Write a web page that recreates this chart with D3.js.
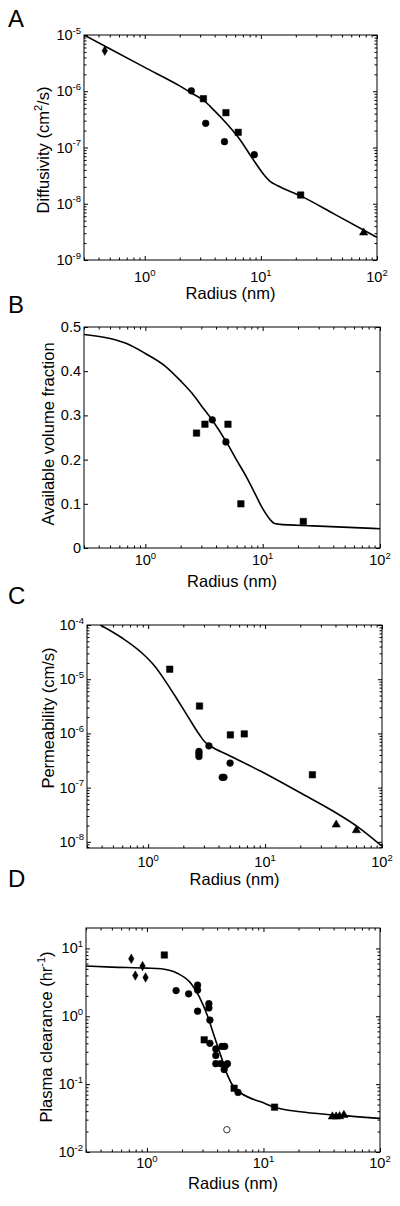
<!DOCTYPE html>
<html><head><meta charset="utf-8">
<script src="https://cdn.jsdelivr.net/npm/d3@7"></script>
<style>
body{margin:0;background:#fff;}
svg{display:block;}
text{font-family:"Liberation Sans",Arial,Helvetica,sans-serif;fill:#000;}
</style>
</head><body>
<svg id="chart" width="400" height="1206"></svg>
<script>
// ---------------- DATA ----------------
const panelLetters = ["A", "B", "C", "D"];
const xLabel = "Radius (nm)";
const xDomain = [0.3, 100];
const xTickValues = [1, 10, 100];
const xTickExponents = ["0", "1", "2"];

// Panel A: Diffusivity (cm^2/s)
const aYTicks = [1e-9, 1e-8, 1e-7, 1e-6, 1e-5];
const aYExponents = ["-9", "-8", "-7", "-6", "-5"];
const aCurveR = [0.3, 0.5, 1.0, 2.0, 2.52, 3.2, 4.0, 5.0, 6.5, 8.5, 10.5, 12, 14, 22, 42.6, 100];
const aCurveV = [1.0e-5, 5.69e-6, 2.66e-6, 1.245e-6, 9.33e-7, 6.92e-7, 4.47e-7, 2.75e-7, 1.445e-7, 6.31e-8, 3.39e-8, 2.51e-8, 2.09e-8, 1.38e-8, 6.61e-9, 2.53e-9];
const aDiamonds = [[0.453, 5.26e-6]];
const aCircles = [[2.52, 1.02e-6], [3.35, 2.69e-7], [4.86, 1.27e-7], [8.78, 7.45e-8]];
const aSquares = [[3.2, 7.38e-7], [5.0, 4.16e-7], [6.38, 1.86e-7], [22.0, 1.43e-8]];
const aTriangles = [[76.7, 3.06e-9]];

// Panel B: Available volume fraction
const bYTicks = [0, 0.1, 0.2, 0.3, 0.4, 0.5];
const bYLabels = ["0", "0.1", "0.2", "0.3", "0.4", "0.5"];
const bCurveR = [0.3, 0.5, 0.7, 1.0, 1.5, 2.0, 2.5, 3.0, 3.7, 5.0, 6.0, 7.3, 8.5, 9.5, 10.5, 11.6, 12.5, 13.5, 27, 100];
const bCurveV = [0.483, 0.474, 0.462, 0.440, 0.410, 0.378, 0.350, 0.322, 0.290, 0.236, 0.199, 0.160, 0.126, 0.100, 0.080, 0.064, 0.056, 0.054, 0.050, 0.0437];
const bSquares = [[2.73, 0.26], [3.22, 0.28], [5.06, 0.28], [6.52, 0.10], [22.2, 0.06]];
const bCircles = [[3.72, 0.29], [4.86, 0.24]];

// Panel C: Permeability (cm/s)
const cYTicks = [1e-8, 1e-7, 1e-6, 1e-5, 1e-4];
const cYExponents = ["-8", "-7", "-6", "-5", "-4"];
const cCurveR = [0.39, 0.6, 0.9, 1.15, 1.4, 1.7, 2.19, 2.75, 3.03, 3.46, 4.8, 9.2, 20.2, 38.7, 61.2, 100];
const cCurveV = [1.0e-4, 5.75e-5, 2.95e-5, 1.70e-5, 9.33e-6, 4.90e-6, 2.04e-6, 9.42e-7, 7.1e-7, 5.74e-7, 4.04e-7, 2.0e-7, 7.94e-8, 3.63e-8, 1.93e-8, 8.3e-9];
const cSquares = [[1.53, 1.53e-5], [2.75, 3.2e-6], [5.05, 9.4e-7], [6.64, 9.8e-7], [25.4, 1.73e-7]];
const cCircles = [[2.72, 4.65e-7], [2.72, 4.22e-7], [2.72, 3.76e-7], [3.31, 5.9e-7], [4.3, 1.55e-7], [4.45, 1.55e-7], [5.02, 2.84e-7]];
const cTriangles = [[40.6, 2.07e-8], [60.4, 1.63e-8]];

// Panel D: Plasma clearance (hr^-1)
const dYTicks = [0.01, 0.1, 1, 10];
const dYExponents = ["-2", "-1", "0", "1"];
const dCurveR = [0.3, 0.5, 1.0, 1.32, 1.84, 2.39, 2.81, 3.32, 3.77, 4.3, 4.91, 5.6, 6.38, 10, 12.45, 20.7, 40, 100];
const dCurveV = [5.5, 5.31, 5.13, 5.01, 4.27, 3.05, 1.95, 1.0, 0.515, 0.265, 0.136, 0.089, 0.074, 0.053, 0.0458, 0.0392, 0.0352, 0.0313];
const dDiamonds = [[0.734, 7.03], [0.795, 3.98], [0.917, 5.5], [0.973, 3.73]];
const dSquares = [[1.41, 8.0], [3.1, 0.45], [5.6, 0.087], [12.45, 0.0458]];
const dCircles = [[1.78, 2.39], [2.28, 2.14], [2.72, 2.88], [2.72, 2.44], [2.72, 1.19], [3.4, 1.53], [3.4, 1.33],
  [3.47, 0.88], [3.47, 0.40], [3.9, 0.33], [3.9, 0.265], [4.4, 0.36], [4.65, 0.36], [3.9, 0.20], [4.3, 0.20],
  [4.75, 0.19], [4.6, 0.164], [4.91, 0.20], [6.05, 0.0755]];
const dTriangles = [[39, 0.0332], [42, 0.0332], [45, 0.0335], [49, 0.035]];
const dOpenCircles = [[4.85, 0.0213]];

// ---------------- LAYOUT ----------------
const panels = [
  { letter: panelLetters[0], letterY: 27, left: 84, right: 377, top: 35, bottom: 260, yLog: true, yDomain: [1e-9, 1e-5],
    yTicks: aYTicks, yTickText: aYExponents, yLabel: ["Diffusivity (cm", "2", "/s)"], yLabelX: 49, yLabelY: 150,
    xTickBase: 282, xLabelBase: 299,
    curveR: aCurveR, curveV: aCurveV,
    marks: { diamond: aDiamonds, circle: aCircles, square: aSquares, triangle: aTriangles } },
  { letter: panelLetters[1], letterY: 313, left: 84, right: 380, top: 327, bottom: 548, yLog: false, yDomain: [0, 0.5],
    yTicks: bYTicks, yTickText: bYLabels, yLabel: ["Available volume fraction"], yLabelX: 54, yLabelY: 434,
    xTickBase: 565, xLabelBase: 587,
    curveR: bCurveR, curveV: bCurveV,
    marks: { square: bSquares, circle: bCircles } },
  { letter: panelLetters[2], letterY: 604, left: 87, right: 382, top: 625, bottom: 848, yLog: true, yDomain: [7.7e-9, 1e-4],
    yTicks: cYTicks, yTickText: cYExponents, yLabel: ["Permeability (cm/s)"], yLabelX: 54, yLabelY: 718,
    xTickBase: 867, xLabelBase: 885,
    curveR: cCurveR, curveV: cCurveV,
    marks: { square: cSquares, circle: cCircles, triangle: cTriangles } },
  { letter: panelLetters[3], letterY: 887, left: 86, right: 380, top: 928, bottom: 1152, yLog: true, yDomain: [0.01, 20],
    yTicks: dYTicks, yTickText: dYExponents, yLabel: ["Plasma clearance (hr", "-1", ")"], yLabelX: 52, yLabelY: 1037,
    xTickBase: 1168, xLabelBase: 1189,
    curveR: dCurveR, curveV: dCurveV,
    marks: { diamond: dDiamonds, square: dSquares, circle: dCircles, triangle: dTriangles, open: dOpenCircles } }
];

const svg = d3.select("#chart");
const TICK_FS = 14.5, SUP_FS = 9.5, LABEL_FS = 16.5;

function minorLogTicks(domain) {
  const out = [];
  const lo = Math.floor(Math.log10(domain[0])), hi = Math.ceil(Math.log10(domain[1]));
  for (let e = lo; e <= hi; e++) {
    for (let k = 2; k <= 9; k++) {
      const v = k * Math.pow(10, e);
      if (v > domain[0] && v < domain[1]) out.push(v);
    }
  }
  return out;
}

const symbols = {
  circle: d3.symbol().type(d3.symbolCircle).size(36),
  square: d3.symbol().type(d3.symbolSquare).size(42),
  diamond: d3.symbol().type(d3.symbolDiamond).size(26),
  triangle: d3.symbol().type(d3.symbolTriangle).size(30),
  open: d3.symbol().type(d3.symbolCircle).size(32)
};

panels.forEach((p, i) => {
  const g = svg.append("g");
  const x = d3.scaleLog().domain(xDomain).range([p.left, p.right]);
  const y = (p.yLog ? d3.scaleLog() : d3.scaleLinear()).domain(p.yDomain).range([p.bottom, p.top]);

  const clipId = "clip" + i;
  svg.append("clipPath").attr("id", clipId).append("rect")
    .attr("x", p.left).attr("y", p.top).attr("width", p.right - p.left).attr("height", p.bottom - p.top);

  // inward ticks via d3 axes
  const xMinor = minorLogTicks(xDomain);
  const yMinor = p.yLog ? minorLogTicks(p.yDomain) : [];
  const specs = [
    [d3.axisBottom(x), `translate(0,${p.bottom})`, xTickValues, xMinor],
    [d3.axisTop(x), `translate(0,${p.top})`, xTickValues, xMinor],
    [d3.axisLeft(y), `translate(${p.left},0)`, p.yTicks, yMinor],
    [d3.axisRight(y), `translate(${p.right},0)`, p.yTicks, yMinor]
  ];
  specs.forEach(([axis, tr, major, minor]) => {
    const gm = g.append("g").attr("transform", tr)
      .call(axis.tickValues(major).tickSizeInner(-4).tickSizeOuter(0).tickFormat(() => ""));
    gm.select(".domain").remove();
    gm.selectAll("line").attr("stroke", "#000").attr("stroke-width", 1);
    if (minor.length) {
      const gn = g.append("g").attr("transform", tr)
        .call(axis.tickValues(minor).tickSizeInner(-2.5).tickSizeOuter(0).tickFormat(() => ""));
      gn.select(".domain").remove();
      gn.selectAll("line").attr("stroke", "#000").attr("stroke-width", 1);
    }
  });

  g.append("rect").attr("x", p.left).attr("y", p.top)
    .attr("width", p.right - p.left).attr("height", p.bottom - p.top)
    .attr("fill", "none").attr("stroke", "#000").attr("stroke-width", 1);

  xTickValues.forEach((v, j) => {
    const t = g.append("text").attr("x", x(v)).attr("y", p.xTickBase)
      .attr("text-anchor", "middle").attr("font-size", TICK_FS);
    t.append("tspan").text("10");
    t.append("tspan").attr("font-size", SUP_FS).attr("dy", -6.5).text(xTickExponents[j]);
  });

  p.yTicks.forEach((v, j) => {
    const t = g.append("text").attr("x", p.left - 3).attr("y", y(v) + 5)
      .attr("text-anchor", "end").attr("font-size", TICK_FS);
    if (p.yLog) {
      t.append("tspan").text("10");
      t.append("tspan").attr("font-size", SUP_FS).attr("dy", -6.5).text(p.yTickText[j]);
    } else {
      t.text(p.yTickText[j]);
    }
  });

  g.append("text").attr("x", (p.left + p.right) / 2).attr("y", p.xLabelBase)
    .attr("text-anchor", "middle").attr("font-size", LABEL_FS).text(xLabel);
  const yl = g.append("text").attr("transform", `translate(${p.yLabelX},${p.yLabelY}) rotate(-90)`)
    .attr("text-anchor", "middle").attr("font-size", LABEL_FS);
  yl.append("tspan").text(p.yLabel[0]);
  if (p.yLabel.length > 1) {
    yl.append("tspan").attr("font-size", 11).attr("dy", -7).text(p.yLabel[1]);
    yl.append("tspan").attr("dy", 7).text(p.yLabel[2]);
  }

  g.append("text").attr("x", 8).attr("y", p.letterY).attr("font-size", 24).text(p.letter);

  const line = d3.line().x(d => x(d[0])).y(d => y(d[1])).curve(d3.curveMonotoneX);
  g.append("path").datum(d3.zip(p.curveR, p.curveV))
    .attr("clip-path", `url(#${clipId})`)
    .attr("d", line).attr("fill", "none").attr("stroke", "#000").attr("stroke-width", 1.6);

  Object.entries(p.marks).forEach(([shape, pts]) => {
    g.selectAll(null).data(pts).enter().append("path")
      .attr("transform", d => `translate(${x(d[0])},${y(d[1])})`)
      .attr("d", symbols[shape])
      .attr("fill", shape === "open" ? "#fff" : "#000")
      .attr("stroke", "#000").attr("stroke-width", shape === "open" ? 0.8 : 0.5);
  });
});
</script>
</body></html>
